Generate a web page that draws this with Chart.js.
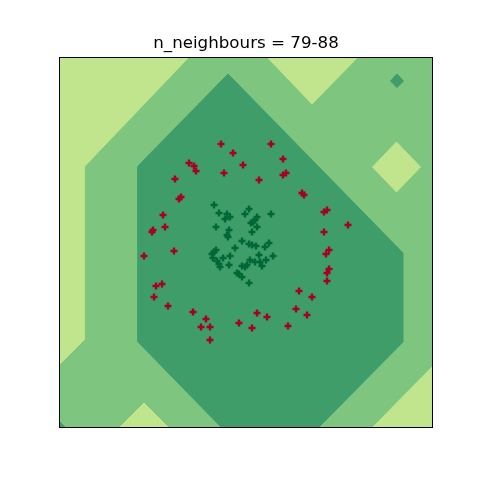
<!DOCTYPE html>
<html><head><meta charset="utf-8">
<script src="https://cdn.jsdelivr.net/npm/chart.js@4/dist/chart.umd.min.js"></script>
<style>html,body{margin:0;padding:0;background:#fff;}canvas{display:block;}</style>
</head><body>
<canvas id="c" width="480" height="480"></canvas>
<script>
// Data space: x 0..372, y 0..369 (axes limits)
const xRange = [0, 372];
const yRange = [0, 369];
const titleText = 'n_neighbours = 79-88';

// contour regions (level polygons)
const bgRegion = [[0,0],[372,0],[372,369],[0,369]];
const lightRegions = [
  [[0,369],[128,369],[24,260],[24,87],[0,63]],
  [[208,369],[297,369],[252,323]],
  [[336.5,285],[360.5,260],[336.5,235],[312.5,260]],
  [[60,0],[84,24],[108,0]],
  [[372,60],[372,0],[313,0]]
];
const darkRegions = [
  [[168,353],[78,261],[78,85],[161,0],[259,0],[343,85],[343,174]],
  [[337,353],[343.5,346],[337,339.5],[330.5,346]],
  [[0,5],[0,0],[5,0]]
];

// class 1 (outer ring, red)
const redX = [161,173,129,134,136,183,164,115,121,119,103,105,93,92,211,223,223,226,199,242,244,264,267,288,264,84,114,96,102,94,108,133,146,141,150,150,179,269,266,269,267,267,239,252,236,247,197,207,192,228];
const redY = [283,274,264,261,256,262,254,248,230,228,212,200,197,195,283,268,252,254,247,234,232,215,217,202,195,171,176,141,143,130,121,115,108,100,100,87,104,177,173,158,154,146,136,130,118,112,114,110,99,101];
// class 0 (inner ring, dark green)
const greenX = [154,189,159,167,170,165,185,211,197,195,193,191,197,156,169,167,168,192,182,189,192,196,175,209,205,156,152,154,153,157,159,160,163,170,199,213,169,190,195,200,206,202,182,185,187,177,179,182,189];
const greenY = [222,218,214,213,210,208,213,213,210,207,205,204,200,200,197,192,190,195,186,183,182,181,179,184,180,177,173,175,169,166,163,160,169,171,172,171,162,167,165,165,167,161,161,160,162,154,153,150,144];

const cLight = 'rgb(192,229,140)';
const cMid = 'rgb(126,197,127)';
const cDark = 'rgb(63,157,106)';

function poly(pts, color, order) {
  const d = pts.map(p => ({x: p[0], y: p[1]}));
  d.push({x: pts[0][0], y: pts[0][1]});
  return {type: 'line', data: d, fill: 'shape', backgroundColor: color, borderColor: color,
          borderWidth: 1, pointRadius: 0, tension: 0, order: order};
}
const datasets = [];
datasets.push({type: 'scatter', data: redX.map((x,i)=>({x, y: redY[i]})), pointStyle: 'cross',
  pointRadius: 3.5, borderWidth: 2.4, borderColor: '#a50026', backgroundColor: '#a50026', order: 0});
datasets.push({type: 'scatter', data: greenX.map((x,i)=>({x, y: greenY[i]})), pointStyle: 'cross',
  pointRadius: 3.5, borderWidth: 2.4, borderColor: '#006837', backgroundColor: '#006837', order: 0});
darkRegions.forEach(r => datasets.push(poly(r, cDark, 1)));
lightRegions.forEach(r => datasets.push(poly(r, cLight, 2)));
datasets.push(poly(bgRegion, cMid, 3));

const frame = {
  id: 'frame',
  afterDraw(chart) {
    const a = chart.chartArea, ctx = chart.ctx;
    ctx.save();
    ctx.strokeStyle = '#000'; ctx.lineWidth = 1;
    ctx.strokeRect(Math.round(a.left) - 0.5, Math.round(a.top) - 0.5, Math.round(a.right - a.left) + 1, Math.round(a.bottom - a.top) + 1);
    ctx.restore();
  }
};

new Chart(document.getElementById('c'), {
  type: 'scatter',
  data: {datasets},
  options: {
    responsive: false, animation: false, devicePixelRatio: 1,
    layout: {padding: {left: 60, right: 48, top: 0, bottom: 53}},
    scales: {
      x: {type: 'linear', min: xRange[0], max: xRange[1], display: false},
      y: {type: 'linear', min: yRange[0], max: yRange[1], display: false}
    },
    plugins: {
      legend: {display: false}, tooltip: {enabled: false},
      title: {display: true, text: titleText, color: '#000',
        font: {family: 'DejaVu Sans', size: 16.7, weight: 'normal'}, lineHeight: 1.2,
        padding: {top: 34, bottom: 4}}
    }
  },
  plugins: [frame]
});
</script>
</body></html>
